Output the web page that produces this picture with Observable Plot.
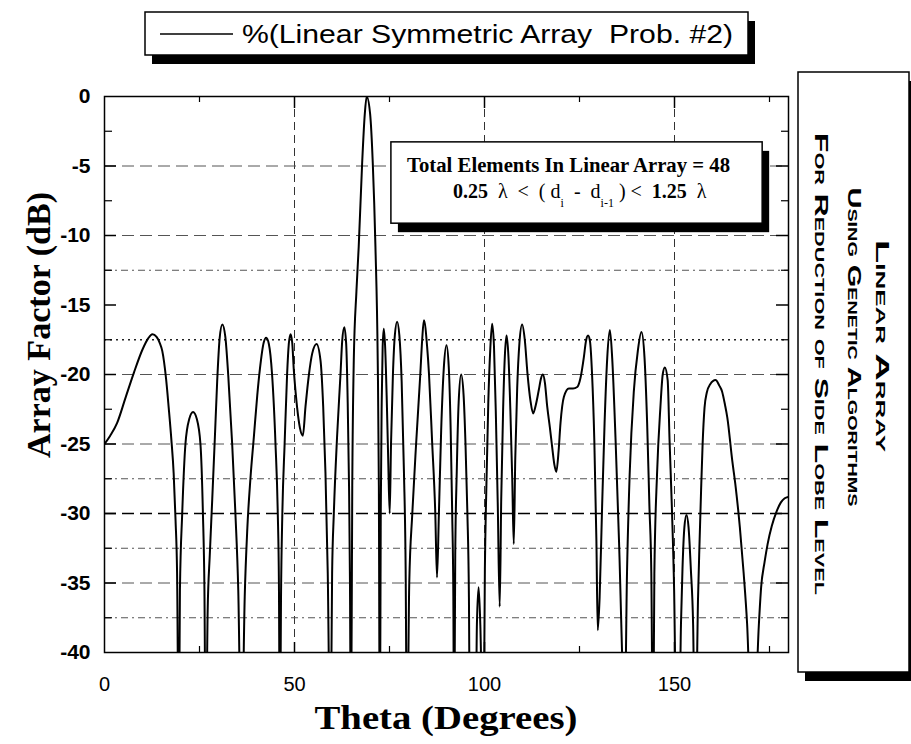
<!DOCTYPE html>
<html>
<head>
<meta charset="utf-8">
<script src="https://cdn.jsdelivr.net/npm/d3@7"></script>
<script src="https://cdn.jsdelivr.net/npm/@observablehq/plot@0.6"></script>
<style>
  html, body { margin: 0; padding: 0; background: #fff; }
  #chart svg { display: block; }
</style>
</head>
<body>
<div id="chart"></div>
<script>
// ---------------- data ----------------
const thetaDeg = [
  0, 1.5, 3.3, 5.5, 7.7, 10.0, 11.5, 12.6, 13.7, 14.5, 15.2, 16.2, 16.9, 17.6, 18.2, 18.7, 19.1, 19.55,
  19.85, 20.45, 21.3, 22.3, 23.3, 24.3, 25.25, 25.9, 26.3, 26.65,
  27.15, 27.7, 28.35, 29.05, 29.65, 30.3, 31.0, 31.8, 32.55, 33.6, 34.45, 35.2, 36.05,
  36.9, 37.6, 38.4, 39.3, 40.2, 40.9, 41.9, 42.55, 43.25, 44.1, 45.0, 45.6, 45.9, 46.15,
  46.45, 46.8, 47.4, 48.05, 48.5, 48.95, 49.4, 49.8, 50.3, 50.7, 51.4, 52.2,
  52.9, 53.8, 54.65, 55.8, 56.85, 57.55, 58.15, 58.75, 59.45,
  59.9, 60.35, 61.2, 62.1, 62.55, 63.1, 63.6, 64.0, 64.35, 64.6, 64.85,
  65.2, 65.6, 66.3, 66.9, 67.8, 68.5, 69.0, 69.9, 70.6, 71.3, 71.9, 72.2, 72.45,
  72.7, 72.95, 73.2, 73.5, 73.85, 74.25, 74.65, 75.05,
  75.4, 75.9, 76.4, 77.0, 77.6, 78.2, 78.8, 79.25, 79.6,
  80.2, 81.0, 82.0, 83.1, 83.6, 84.05, 84.9, 85.4, 86.2, 87.05, 87.5,
  88.0, 88.6, 89.3, 90.0, 90.6, 91.1, 91.5, 91.8, 92.0,
  92.3, 92.7, 93.2, 93.85, 94.5, 95.0, 95.5, 95.9, 96.2,
  97.6, 98.0, 98.45, 98.9, 99.7,
  100.1, 100.5, 101.0, 101.5, 102.0, 102.5, 103.0, 103.5, 104.0,
  104.4, 104.9, 105.35, 105.8, 106.3, 106.8, 107.3, 107.7,
  108.1, 108.6, 109.2, 109.9, 110.6, 111.3, 112.1, 112.8,
  113.5, 114.3, 114.85, 115.35, 115.9, 116.5, 117.2, 117.8, 118.4, 118.9,
  119.5, 120.0, 120.9, 122.2, 123.3, 124.4, 125.3, 126.15, 126.7, 127.25, 127.75, 128.3, 128.9, 129.45, 129.8,
  130.3, 130.95, 131.6, 132.3, 133.0, 133.6, 134.5, 135.4, 136.2, 136.75,
  137.5, 138.2, 139.3, 140.35, 141.3, 142.1, 142.8, 143.4, 143.9, 144.35,
  144.7, 145.4, 146.3, 146.9, 147.45, 148.2, 148.7, 149.3, 149.9, 150.6, 151.1,
  151.7, 152.1, 152.6, 153.15, 153.7, 154.3, 154.9, 155.45,
  156.2, 156.6, 157.0, 157.4, 157.9, 158.5, 159.4, 160.8, 161.8, 162.5, 163.3, 163.9, 165.2, 166.1, 167.2, 168.2, 169.1, 170.6,
  172.2, 172.8, 173.7, 174.5, 175.6, 176.8, 178.0, 179.0, 180
];
const arrayFactorDb = [
  -25, -24.4, -23.5, -21.7, -19.9, -18.2, -17.4, -17.1, -17.3, -17.7, -18.3, -20.3, -22.4, -24.7, -27.1, -30.5, -34.3, -48,
  -35.5, -30, -25, -23.2, -22.7, -23.2, -25, -30, -35.5, -48,
  -37, -33, -29, -24.5, -20.5, -17.4, -16.4, -17.3, -20, -25, -30, -35.5, -48,
  -36, -31, -27.5, -24.5, -21.5, -19.6, -17.7, -17.35, -17.8, -20, -25, -30, -35, -48,
  -36, -30, -25, -20, -17.8, -17.1, -17.7, -19.6, -21.3, -22.4, -23.8, -24.4,
  -22.3, -20.0, -18.5, -17.8, -19.0, -22.3, -27.1, -34.3, -48,
  -34.3, -30, -24.5, -20, -17.6, -16.6, -17.8, -22, -28, -35, -48,
  -28, -19, -14, -10.8, -4.8, -1.25, 0, -1.25, -4.8, -10.8, -19, -28, -48,
  -30, -22, -18, -16.7, -18, -21.5, -26, -30,
  -25, -20, -17.2, -16.2, -17.2, -20.5, -27, -34, -48,
  -35, -30, -25, -20, -17.5, -16.1, -18, -20, -24.75, -30, -34.6,
  -30, -24, -19.5, -17.9, -19.5, -24, -30, -36, -48,
  -33, -27, -22, -20, -21.5, -25, -30, -36, -48,
  -48, -38, -35.3, -38, -48,
  -34, -28, -22, -18.3, -16.35, -18, -23, -29.5, -36.7,
  -29, -22.5, -18.7, -17.2, -18.7, -22.5, -27.5, -32.2,
  -26, -21, -17.7, -16.4, -17.5, -19.9, -21.9, -22.8,
  -22.2, -21.1, -20.3, -20.0, -20.6, -22.3, -23.8, -25.2, -26.5, -27.0,
  -25.5, -23.5, -21.6, -21.0, -21.0, -20.9, -20.2, -18.75, -17.6, -17.2, -17.6, -19.95, -24.75, -32, -38.4,
  -36, -29.5, -23.5, -18.8, -16.8, -18.8, -24.75, -32, -40, -48,
  -34.3, -27.2, -21.2, -18.3, -16.95, -18.75, -23.5, -29.5, -34.3, -48,
  -34.3, -27.2, -22.3, -20.0, -19.5, -20.4, -24.75, -29.5, -35.5, -48, -48,
  -38, -34, -31, -30.1, -31, -34, -38, -48,
  -36, -32, -28.3, -25, -22.4, -21.3, -20.7, -20.4, -20.8, -21.2, -22.2, -23.1, -26.2, -28.1, -31.0, -34.3, -37.9, -48,
  -38, -35.3, -33.5, -32.2, -30.9, -29.9, -29.2, -28.9, -28.8
];

const xTickLabels = [0, 50, 100, 150];
const yTickLabels = [0, -5, -10, -15, -20, -25, -30, -35, -40];
const xMajorTicks = [50, 100, 150];
const xMinorTicks = [25, 75, 125, 175];
const yMajorTicks = [-5, -10, -15, -20, -25, -30, -35];
const yMinorTicks = [-2.5, -7.5, -12.5, -17.5, -22.5, -27.5, -32.5, -37.5];
const xGrid = [50, 100, 150];
const yGridDash = [-5, -10, -20, -25, -35];
const yGridBold = [-30];
const yGridDashDot = [-12.5, -27.5, -32.5, -37.5];
const yGridDotted = [-17.5];

const legendLabel = "%(Linear Symmetric Array  Prob. #2)";
const xTitle = "Theta (Degrees)";
const yTitle = "Array Factor (dB)";
const boxLine1 = "Total Elements In Linear Array = 48";
const sideTitle = ["Linear Array", "Using Genetic Algorithms", "For Reduction of Side Lobe Level"];

const points = thetaDeg.map((t, i) => ({theta: t, db: arrayFactorDb[i]}));

// ---------------- layout ----------------
const W = 911, H = 744;
const mL = 104, mR = 123, mT = 96, mB = 92;
const pw = W - mL - mR, ph = H - mT - mB;

const plot = Plot.plot({
  width: W, height: H,
  marginLeft: mL, marginRight: mR, marginTop: mT, marginBottom: mB,
  style: {background: "white", fontFamily: "'Liberation Sans', Arial, sans-serif", color: "black"},
  x: {domain: [0, 180], label: null},
  y: {domain: [-40, 0], label: null},
  marks: [
    Plot.ruleX(xGrid, {x: d => d, stroke: "#333", strokeWidth: 1, strokeDasharray: "8,5"}),
    Plot.ruleY(yGridDash, {y: d => d, stroke: "#555", strokeWidth: 1, strokeDasharray: "12,6"}),
    Plot.ruleY(yGridBold, {y: d => d, stroke: "#000", strokeWidth: 1.6, strokeDasharray: "12,6"}),
    Plot.ruleY(yGridDashDot, {y: d => d, stroke: "#555", strokeWidth: 1, strokeDasharray: "7,4,2,4"}),
    Plot.ruleY(yGridDotted, {y: d => d, stroke: "#222", strokeWidth: 1.3, strokeDasharray: "2,4"}),
    Plot.line(points, {x: "theta", y: "db", curve: "monotone-x", stroke: "black", strokeWidth: 2, clip: true}),
    Plot.frame({stroke: "black", strokeWidth: 1.5}),
    // inward ticks, left & right
    Plot.tickY(yMajorTicks, {y: d => d, insetRight: pw - 12, stroke: "black", strokeWidth: 1.5}),
    Plot.tickY(yMinorTicks, {y: d => d, insetRight: pw - 8, stroke: "black", strokeWidth: 1.2}),
    Plot.tickY(yMajorTicks, {y: d => d, insetLeft: pw - 12, stroke: "black", strokeWidth: 1.5}),
    Plot.tickY(yMinorTicks, {y: d => d, insetLeft: pw - 7, stroke: "black", strokeWidth: 1.2}),
    // inward ticks, top & bottom
    Plot.tickX(xMajorTicks, {x: d => d, insetBottom: ph - 12, stroke: "black", strokeWidth: 1.5}),
    Plot.tickX(xMinorTicks, {x: d => d, insetBottom: ph - 6, stroke: "black", strokeWidth: 1.2}),
    Plot.tickX(xMajorTicks, {x: d => d, insetTop: ph - 10, stroke: "black", strokeWidth: 1.5}),
    Plot.tickX(xMinorTicks, {x: d => d, insetTop: ph - 6, stroke: "black", strokeWidth: 1.2}),
    Plot.axisX({ticks: xTickLabels, tickSize: 0, tickPadding: 24, tickFormat: d => String(d),
                fontSize: 20, label: null}),
    Plot.axisY({ticks: yTickLabels, tickSize: 0, tickPadding: 14, tickFormat: d => String(d),
                fontSize: 21, fontWeight: "bold", label: null})
  ]
});

document.getElementById("chart").appendChild(plot);

// ---------------- decorations ----------------
const svg = d3.select(plot);
const deco = svg.append("g").attr("text-anchor", "start");
const sx = plot.scale("x"), sy = plot.scale("y");

function shadowBox(x, y, w, h, off) {
  deco.append("rect").attr("x", x + off[0]).attr("y", y + off[1]).attr("width", w).attr("height", h).attr("fill", "black");
  deco.append("rect").attr("x", x).attr("y", y).attr("width", w).attr("height", h)
      .attr("fill", "white").attr("stroke", "black").attr("stroke-width", 1.5);
}

// legend box (top)
shadowBox(145, 12, 603, 43, [7, 9]);
deco.append("line").attr("x1", 160).attr("x2", 233).attr("y1", 34).attr("y2", 34)
    .attr("stroke", "black").attr("stroke-width", 1.5);
deco.append("text").attr("x", 242).attr("y", 43).attr("text-anchor", "start")
    .attr("font-family", "'Liberation Sans', Arial, sans-serif").attr("font-size", 25)
    .attr("textLength", 491).attr("lengthAdjust", "spacingAndGlyphs")
    .style("white-space", "pre").text(legendLabel);

// info box inside plot
const bx0 = sx.apply(75.5), bx1 = sx.apply(173.2), by0 = sy.apply(-3.3), by1 = sy.apply(-9.15);
shadowBox(bx0, by0, bx1 - bx0, by1 - by0, [7, 9]);
deco.append("text").attr("x", (bx0 + bx1) / 2 - 8).attr("y", by0 + 30)
    .attr("text-anchor", "middle")
    .attr("font-family", "'Liberation Serif', 'Times New Roman', serif").attr("font-weight", "bold")
    .attr("font-size", 20).attr("textLength", 323).attr("lengthAdjust", "spacingAndGlyphs")
    .text(boxLine1);
const t2 = deco.append("text").attr("x", bx0 + 62).attr("y", by0 + 56).attr("text-anchor", "start")
    .attr("font-family", "'Liberation Serif', 'Times New Roman', serif").attr("font-size", 20)
    .style("white-space", "pre");
t2.append("tspan").attr("font-weight", "bold").text("0.25");
t2.append("tspan").text("  \u03BB  <  ( d");
t2.append("tspan").attr("font-size", 12).attr("dy", 9).text("i");
t2.append("tspan").attr("dy", -9).text("  -  d");
t2.append("tspan").attr("font-size", 12).attr("dy", 9).text("i-1");
t2.append("tspan").attr("dy", -9).text(" ) <  ");
t2.append("tspan").attr("font-weight", "bold").text("1.25");
t2.append("tspan").text("  \u03BB");

// right-hand title box
shadowBox(798, 72, 111, 600, [7, 9]);
const sideX = [883, 855, 822];
const sideY = [346, 347, 364];
const sideLen = [212, 319, 462];
sideTitle.forEach((s, i) => {
  deco.append("text")
    .attr("transform", `translate(${sideX[i]},${sideY[i]}) rotate(90)`)
    .attr("text-anchor", "middle").attr("dy", "0.36em")
    .attr("font-family", "'Liberation Sans', Arial, sans-serif").attr("font-weight", "bold")
    .attr("font-size", 19).style("font-variant", "small-caps")
    .attr("textLength", sideLen[i]).attr("lengthAdjust", "spacingAndGlyphs")
    .text(s);
});

// axis titles
deco.append("text")
  .attr("transform", "translate(38,325) rotate(-90)")
  .attr("text-anchor", "middle").attr("dy", "0.35em")
  .attr("font-family", "'Liberation Serif', 'Times New Roman', serif").attr("font-weight", "bold")
  .attr("font-size", 34).attr("textLength", 266).attr("lengthAdjust", "spacingAndGlyphs")
  .text(yTitle);
deco.append("text")
  .attr("x", 446).attr("y", 729).attr("text-anchor", "middle")
  .attr("font-family", "'Liberation Serif', 'Times New Roman', serif").attr("font-weight", "bold")
  .attr("font-size", 34).attr("textLength", 263).attr("lengthAdjust", "spacingAndGlyphs")
  .text(xTitle);
</script>
</body>
</html>
